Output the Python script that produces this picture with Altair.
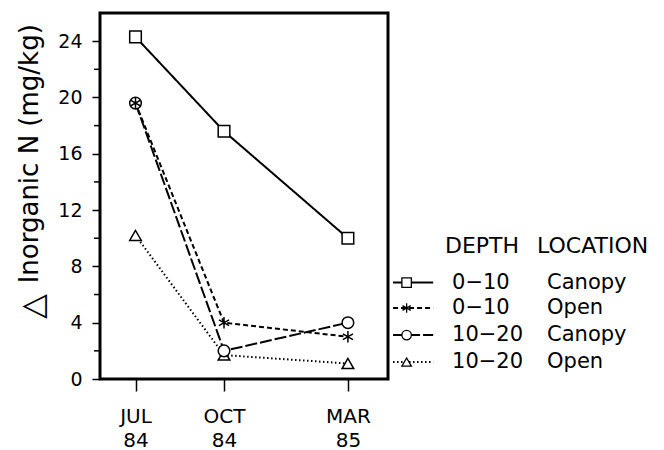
import altair as alt
import pandas as pd

# ---- data ----
series = ["0-10 Canopy", "0-10 Open", "10-20 Canopy", "10-20 Open"]
depth_labels = ["0\u221210", "0\u221210", "10\u221220", "10\u221220"]
location_labels = ["Canopy", "Open", "Canopy", "Open"]
sample_pos = [0.0, 3.0, 7.2]          # JUL 84, OCT 84, MAR 85 positions on the time axis
tick_months = ["JUL", "OCT", "MAR"]
tick_years = ["84", "84", "85"]
canopy_0_10 = [24.3, 17.6, 10.0]
open_0_10 = [19.6, 4.0, 3.0]
canopy_10_20 = [19.6, 2.0, 4.0]
open_10_20 = [10.2, 1.7, 1.1]
values = [canopy_0_10, open_0_10, canopy_10_20, open_10_20]
y_major = [0, 4, 8, 12, 16, 20, 24]
y_minor = [2, 6, 10, 14, 18, 22]
y_title_symbol = "\u25b3"
y_title = "Inorganic N (mg/kg)"

# layout anchors (in the chart's own data units)
y_title_x = -3.3
y_symbol_x = -3.15
y_title_y = 16.0
y_symbol_y = 5.15
leg_rows_y = [6.85, 5.04, 3.12, 1.2]
leg_title_y = 9.45
leg_line_x = (8.73, 10.09)
leg_marker_x = 9.19
leg_depth_x = 10.73
leg_loc_x = 13.95
leg_title_x = (10.49, 13.61)

FONT = "DejaVu Sans"
X_DOMAIN = [-1.2034, 8.559]
Y_DOMAIN = [0, 26]

rows = []
for s, vals in zip(series, values):
    for p, v in zip(sample_pos, vals):
        rows.append({"series": s, "x": p, "y": v})
df = pd.DataFrame(rows)

point_order = ["0-10 Canopy", "10-20 Open", "10-20 Canopy", "0-10 Open"]
df_pts = pd.concat([df[df.series == s] for s in point_order])

dash_range = [[1, 0], [5, 3], [12, 3], [1.5, 2.5]]
width_range = [2, 2, 2, 1.6]
asterisk = "M0,-1L0,1M-0.87,-0.5L0.87,0.5M-0.87,0.5L0.87,-0.5"
shape_range = ["square", asterisk, "circle", "triangle-up"]

parts = [f"abs(datum.value - {p}) < 0.01 ? ['{m}', '{yr}']"
         for p, m, yr in zip(sample_pos, tick_months, tick_years)]
label_expr = " : ".join(parts) + " : ''"

x_enc = alt.X("x:Q", scale=alt.Scale(domain=X_DOMAIN, nice=False, zero=False),
              axis=alt.Axis(values=sample_pos, labelExpr=label_expr, title=None,
                            grid=False, domain=False, tickSize=12, tickWidth=1.5,
                            tickColor="black", labelFont=FONT, labelFontSize=20,
                            labelColor="black", labelPadding=15, labelLineHeight=24,
                            labelAlign="center"))
y_enc = alt.Y("y:Q", scale=alt.Scale(domain=Y_DOMAIN, nice=False, zero=True),
              axis=alt.Axis(values=y_major, title=None,
                            grid=False, domain=False, tickSize=8, tickWidth=1.5,
                            tickColor="black", labelFont=FONT, labelFontSize=19,
                            labelColor="black", labelPadding=10))

dash_enc = alt.StrokeDash("series:N", scale=alt.Scale(domain=series, range=dash_range), legend=None)
sw_enc = alt.StrokeWidth("series:N", scale=alt.Scale(domain=series, range=width_range), legend=None)
shape_enc = alt.Shape("series:N", scale=alt.Scale(domain=series, range=shape_range), legend=None)

lines = alt.Chart(df).mark_line(color="black").encode(
    x=x_enc, y=y_enc, strokeDash=dash_enc, strokeWidth=sw_enc, detail="series:N")

points = alt.Chart(df_pts).mark_point(fill="white", stroke="black", strokeWidth=1.5,
                                      opacity=1, fillOpacity=1, size=135).encode(
    x=x_enc, y=y_enc, shape=shape_enc)

minor = alt.Chart(pd.DataFrame({"y": y_minor})).mark_rule(color="black", strokeWidth=1.5).encode(
    y=y_enc, x=alt.value(-6), x2=alt.value(0))

ytitle = alt.Chart(pd.DataFrame({"x": [y_title_x], "y": [y_title_y],
                                 "t": [y_title]})).mark_text(
    font=FONT, fontSize=26, angle=270, align="center", baseline="alphabetic",
    color="black").encode(x=x_enc, y=y_enc, text="t:N")
ysymbol = alt.Chart(pd.DataFrame({"x": [y_symbol_x], "y": [y_symbol_y],
                                  "t": [y_title_symbol]})).mark_text(
    font=FONT, fontSize=32, angle=270, align="center", baseline="alphabetic",
    color="black").encode(x=x_enc, y=y_enc, text="t:N")

# legend
leg = pd.DataFrame({
    "series": series,
    "y": leg_rows_y,
    "x": [leg_line_x[0]] * 4,
    "x2": [leg_line_x[1]] * 4,
    "xm": [leg_marker_x] * 4,
    "xd": [leg_depth_x] * 4,
    "xl": [leg_loc_x] * 4,
    "depth": depth_labels,
    "loc": location_labels,
})
leg_lines = alt.Chart(leg).mark_rule(color="black").encode(
    x=x_enc, x2="x2:Q", y=y_enc, strokeDash=dash_enc, strokeWidth=sw_enc)
leg_pts = alt.Chart(leg).transform_calculate(x="datum.xm").mark_point(
    fill="white", stroke="black", strokeWidth=1.3, opacity=1, fillOpacity=1, size=90).encode(
    x=x_enc, y=y_enc, shape=shape_enc)
leg_depth = alt.Chart(leg).transform_calculate(x="datum.xd").mark_text(
    font=FONT, fontSize=21, align="left", baseline="middle", color="black").encode(
    x=x_enc, y=y_enc, text="depth:N")
leg_loc = alt.Chart(leg).transform_calculate(x="datum.xl").mark_text(
    font=FONT, fontSize=21, align="left", baseline="middle", color="black").encode(
    x=x_enc, y=y_enc, text="loc:N")
leg_title = alt.Chart(pd.DataFrame({"x": list(leg_title_x), "y": [leg_title_y] * 2,
                                    "t": ["DEPTH", "LOCATION"]})).mark_text(
    font=FONT, fontSize=22, align="left", baseline="middle", color="black").encode(
    x=x_enc, y=y_enc, text="t:N")

chart = alt.layer(lines, minor, points, ytitle, ysymbol, leg_lines, leg_pts, leg_depth,
                  leg_loc, leg_title).properties(
    width=288, height=366,
    background="white",
    autosize=alt.AutoSizeParams(type="none"),
    padding={"left": 92, "top": 5, "right": 268, "bottom": 71},
).configure_view(stroke="black", strokeWidth=3)

chart.save("out.html", embed_options={"renderer": "svg", "actions": False})
